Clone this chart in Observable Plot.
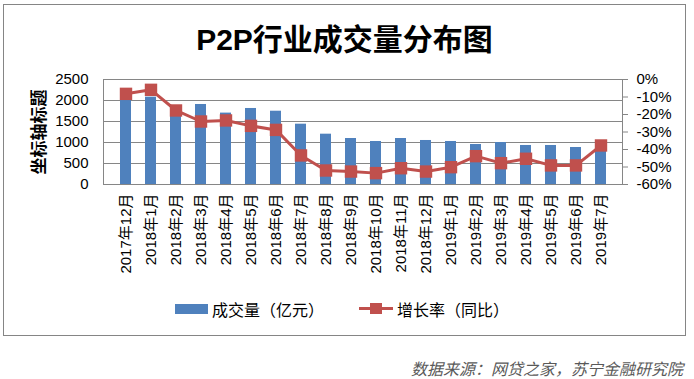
<!DOCTYPE html>
<html>
<head>
<meta charset="utf-8">
<script src="https://cdn.jsdelivr.net/npm/d3@7"></script>
<script src="https://cdn.jsdelivr.net/npm/@observablehq/plot@0.6"></script>
<style>
  html, body { margin: 0; padding: 0; background: #fff; }
  #wrap { position: relative; width: 694px; height: 379px; overflow: hidden;
          font-family: "Liberation Sans", "Noto Sans CJK SC", sans-serif; }
  #box { position: absolute; left: 3px; top: 4px; width: 681px; height: 330px;
         border: 1px solid #858585; }
  #title { position: absolute; left: 3px; width: 683px; top: 20px; text-align: center;
           font-size: 30px; font-weight: bold; line-height: 40px; color: #000;
           font-family: "Liberation Sans", "Noto Sans CJK SC", sans-serif; }
  #ytitle { position: absolute; left: 37px; top: 132px; transform: translate(-50%, -50%) rotate(-90deg);
            font-size: 17px; font-weight: bold; white-space: nowrap; font-family: "Noto Sans CJK SC", sans-serif; }
  #chart { position: absolute; left: 0; top: 0; }
  .leg { position: absolute; font-size: 16px; line-height: 20px; white-space: nowrap;
         font-family: "Noto Sans CJK SC", sans-serif; color: #000; }
  #caption { position: absolute; right: 11px; top: 356px; font-size: 16px; font-style: italic;
             color: #595959; white-space: nowrap; font-family: "Noto Sans CJK SC", sans-serif; }
</style>
</head>
<body>
<div id="wrap">
  <div id="box"></div>
  <div id="chart"></div>
  <div id="title">P2P行业成交量分布图</div>
  <div id="ytitle">坐标轴标题</div>
  <div id="legend"></div>
  <div id="caption">数据来源：网贷之家，苏宁金融研究院</div>
</div>
<script>
const months = ["2017年12月","2018年1月","2018年2月","2018年3月","2018年4月","2018年5月","2018年6月",
  "2018年7月","2018年8月","2018年9月","2018年10月","2018年11月","2018年12月","2019年1月",
  "2019年2月","2019年3月","2019年4月","2019年5月","2019年6月","2019年7月"];
const volume = [2150, 2080, 1720, 1905, 1700, 1810, 1745, 1436, 1198, 1095, 1024, 1095, 1048, 1024, 952, 1000, 929, 929, 881, 950];
const growth = [-8.2, -5.9, -17.7, -24.0, -23.4, -26.5, -28.8, -43.4, -52.0, -52.6, -53.5, -50.7, -52.6, -50.1, -43.8, -47.8, -45.3, -49.1, -49.1, -37.7];
const leftTicks = [0, 500, 1000, 1500, 2000, 2500];
const rightTicks = [0, -10, -20, -30, -40, -50, -60];
const seriesNames = ["成交量（亿元）", "增长率（同比）"];

const blue = "#4F81BD", red = "#C0504D", gridColor = "#868686";
const yMax = 2500, pMin = -60, pMax = 0;
const pctToY = p => (p - pMin) / (pMax - pMin) * yMax;
const yToPct = v => Math.round(v / yMax * (pMax - pMin) + pMin);

const data = months.map((m, i) => ({month: m, volume: volume[i], growth: growth[i]}));

const chart = Plot.plot({
  width: 694, height: 294,
  marginLeft: 103, marginRight: 72, marginTop: 79, marginBottom: 110,
  style: {fontFamily: "'Liberation Sans', 'Noto Sans CJK SC', sans-serif", fontSize: "15px", color: "#000", background: "transparent", overflow: "visible"},
  x: {domain: months, paddingInner: 0.58, paddingOuter: 0.29, label: null},
  y: {domain: [0, yMax], label: null},
  marks: [
    Plot.gridY(leftTicks, {stroke: gridColor, strokeOpacity: 1}),
    Plot.barY(data, {x: "month", y: "volume", fill: blue}),
    Plot.frame({stroke: gridColor}),
    Plot.axisY(leftTicks, {anchor: "left", tickSize: 0, tickPadding: 15, label: null, tickFormat: d => String(d)}),
    Plot.axisY(rightTicks.map(pctToY), {anchor: "right", tickSize: 5, tickPadding: 9, stroke: gridColor, fill: "#000",
      tickFormat: v => yToPct(v) + "%", label: null}),
    Plot.axisX({tickRotate: -90, tickSize: 0, tickPadding: 9, label: null, fontSize: 15}),
    Plot.line(data, {x: "month", y: d => pctToY(d.growth), stroke: red, strokeWidth: 3}),
    Plot.dot(data, {x: "month", y: d => pctToY(d.growth), symbol: "square", r: 7, fill: red})
  ]
});
document.getElementById("chart").appendChild(chart);

// legend
const legend = document.getElementById("legend");
legend.innerHTML = `
  <div style="position:absolute;left:175px;top:304px;width:33px;height:10px;background:${blue}"></div>
  <div class="leg" style="left:212px;top:299px">${seriesNames[0]}</div>
  <div style="position:absolute;left:359px;top:307px;width:34px;height:3px;background:${red}"></div>
  <div style="position:absolute;left:370px;top:303px;width:12px;height:11px;background:${red}"></div>
  <div class="leg" style="left:397px;top:299px">${seriesNames[1]}</div>
`;
</script>
</body>
</html>
